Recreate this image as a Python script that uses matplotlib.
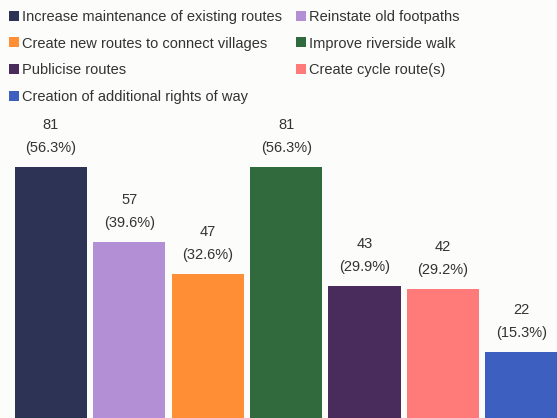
import matplotlib
matplotlib.use("Agg")
import matplotlib.pyplot as plt
from matplotlib.patches import Patch

plt.rcParams['font.family'] = ['Liberation Sans', 'DejaVu Sans']

categories = ["Increase maintenance of existing routes", "Reinstate old footpaths",
              "Create new routes to connect villages", "Improve riverside walk",
              "Publicise routes", "Create cycle route(s)",
              "Creation of additional rights of way"]
counts = [81, 57, 47, 81, 43, 42, 22]
percents = ["56.3%", "39.6%", "32.6%", "56.3%", "29.9%", "29.2%", "15.3%"]
colors = ["#2c3354", "#b38fd5", "#ff8e35", "#316a3c", "#4a2c5c", "#ff7b7a", "#3d5fbf"]

W, H = 557, 418
bg = "#fcfcfa"
fig = plt.figure(figsize=(W / 100, H / 100), dpi=100, facecolor=bg)
ax = fig.add_axes([0, 0, 1, 312 / H])
ax.set_facecolor(bg)

x = list(range(len(counts)))
bars = ax.bar(x, counts, width=0.92, color=colors)
ax.set_xlim(-0.65, 6.455)
ax.set_ylim(0.7, 100.7)
ax.axis("off")

for xi, c, p in zip(x, counts, percents):
    ax.annotate(str(c), (xi, c), xytext=(0, 42), textcoords="offset pixels",
                ha="center", va="center", fontsize=10.5, color="#333333")
    ax.annotate("(" + p + ")", (xi, c), xytext=(0, 19), textcoords="offset pixels",
                ha="center", va="center", fontsize=10.5, color="#333333")

# legend is filled row by row in the reference
order = [0, 2, 4, 6, 1, 3, 5]
handles = [Patch(facecolor=colors[i], edgecolor="none") for i in order]
labels = [categories[i] for i in order]
fig.legend(handles, labels, loc="upper left", bbox_to_anchor=(9 / W, 1 - 10 / H),
           ncol=2, frameon=False, fontsize=10.5, handlelength=0.68, handleheight=0.68,
           handletextpad=0.2, labelspacing=0.86, columnspacing=0.95, borderpad=0,
           borderaxespad=0, labelcolor="#333333")

fig.savefig("out.png", dpi=100, facecolor=bg)
